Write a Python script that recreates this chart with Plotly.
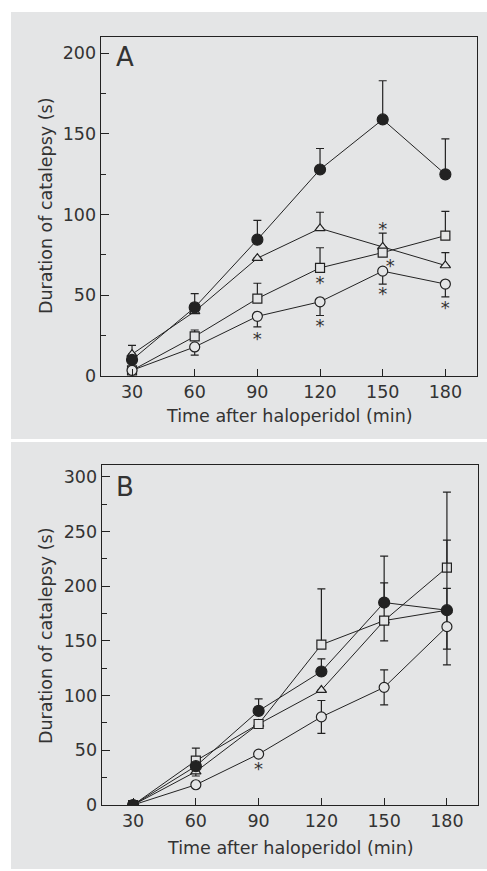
import plotly.graph_objects as go

W, H = 487, 871
BG = "#e4e5e6"
INK = "#222222"
TXT = "#333333"
FONT = "DejaVu Sans"

times = [30, 60, 90, 120, 150, 180]

# Panel A
a_filled = [10, 42.5, 84.5, 128, 159, 125]
a_filled_plus = [0, 8.5, 12, 13, 24, 22]
a_tri = [13.5, 40, 73, 91.5, 80, 68.5]
a_tri_plus = [5.5, 5, 0, 10, 8.5, 8]
a_sq = [3.5, 24.5, 48, 67, 76.5, 87]
a_sq_plus = [0, 4, 9.5, 12.5, 0, 15]
a_open = [3.5, 18, 37, 46, 65, 57]
a_open_minus = [0, 5, 6.5, 8.5, 8, 8]
a_star_x = [90, 120, 120, 150, 153.6, 150, 180]
a_star_y = [22.3, 56.4, 30.2, 90, 67.4, 49.8, 41.5]

# Panel B
b_filled = [0, 35.5, 86, 122, 185, 178]
b_filled_plus = [4, 0, 11, 11.5, 18, 64]
b_sq = [0, 40.5, 74, 146.5, 168.5, 217]
b_sq_plus = [0, 11.5, 0, 51, 59, 69]
b_tri = [0, 30.5, 74, 105, 168.5, 178]
b_tri_minus = [0, 4, 0, 0, 18.5, 35.5]
b_open = [0, 18.5, 46.5, 80.5, 107.5, 163]
b_open_err = [0, 0, 0, 15, 16, 35]
b_star_x = [90]
b_star_y = [31.3]

zeros = [0] * len(times)

fig = go.Figure()


def add_series(y, plus, minus, symbol, size, filled, xa, ya):
    fig.add_trace(go.Scatter(
        x=times, y=y, mode="lines+markers",
        line=dict(color=INK, width=1),
        marker=dict(symbol=symbol, size=size,
                    color=INK if filled else BG,
                    line=dict(color=INK, width=1.2)),
        error_y=dict(type="data", symmetric=False, array=plus, arrayminus=minus,
                     color=INK, thickness=1.2, width=4),
        xaxis=xa, yaxis=ya, showlegend=False, hoverinfo="skip"))


# Panel A traces
add_series(a_tri, a_tri_plus, zeros, "triangle-up", 9, False, "x", "y")
add_series(a_sq, a_sq_plus, zeros, "square", 9, False, "x", "y")
add_series(a_open, zeros, a_open_minus, "circle", 10, False, "x", "y")
add_series(a_filled, a_filled_plus, zeros, "circle", 11, True, "x", "y")
fig.add_trace(go.Scatter(x=a_star_x, y=a_star_y, mode="text", text=["*"] * len(a_star_x),
                         textposition="middle center",
                         textfont=dict(family=FONT, size=18, color=TXT),
                         xaxis="x", yaxis="y", showlegend=False, hoverinfo="skip"))

# Panel B traces
add_series(b_tri, zeros, b_tri_minus, "triangle-up", 9, False, "x2", "y2")
add_series(b_sq, b_sq_plus, zeros, "square", 9, False, "x2", "y2")
add_series(b_open, b_open_err, b_open_err, "circle", 10, False, "x2", "y2")
add_series(b_filled, b_filled_plus, zeros, "circle", 11, True, "x2", "y2")
fig.add_trace(go.Scatter(x=b_star_x, y=b_star_y, mode="text", text=["*"] * len(b_star_x),
                         textposition="middle center",
                         textfont=dict(family=FONT, size=18, color=TXT),
                         xaxis="x2", yaxis="y2", showlegend=False, hoverinfo="skip"))


def px_x(p):
    return p / W


def px_y(p):
    return 1 - p / H


common_x = dict(range=[15, 195], tickvals=times, ticks="inside", ticklen=7, tickwidth=1.2,
                tickcolor=INK, showline=True, linecolor=INK, linewidth=1.3, mirror=True,
                showgrid=False, zeroline=False, automargin=False,
                tickfont=dict(family=FONT, size=17.5, color=TXT))
common_y = dict(ticks="inside", ticklen=8, tickwidth=1.2, tickcolor=INK,
                showline=True, linecolor=INK, linewidth=1.3, mirror=True,
                showgrid=False, zeroline=False, automargin=False,
                minor=dict(dtick=25, ticks="inside", ticklen=5, tickwidth=1.2,
                           tickcolor=INK, showgrid=False),
                tickfont=dict(family=FONT, size=17.5, color=TXT))

fig.update_layout(
    width=W, height=H, margin=dict(l=0, r=0, t=0, b=0),
    paper_bgcolor="white", plot_bgcolor="rgba(0,0,0,0)",
    xaxis=dict(domain=[px_x(100.7), px_x(476.7)], anchor="y", **common_x),
    yaxis=dict(domain=[px_y(376), px_y(36.7)], anchor="x", range=[0, 210.3],
               dtick=50, tick0=0, **common_y),
    xaxis2=dict(domain=[px_x(101.7), px_x(478.3)], anchor="y2", **common_x),
    yaxis2=dict(domain=[px_y(805), px_y(465)], anchor="x2", range=[0, 310.7],
                dtick=50, tick0=0, **common_y),
    shapes=[
        dict(type="rect", xref="paper", yref="paper", x0=px_x(11), x1=1,
             y0=px_y(439), y1=px_y(12), fillcolor=BG, line=dict(width=0), layer="below"),
        dict(type="rect", xref="paper", yref="paper", x0=px_x(11), x1=1,
             y0=px_y(869), y1=px_y(442), fillcolor=BG, line=dict(width=0), layer="below"),
    ],
)

title_font = dict(family=FONT, size=17.5, color=TXT)
ann = [
    dict(text="A", x=px_x(114), y=px_y(57), xanchor="left", yanchor="middle",
         font=dict(family=FONT, size=26, color=TXT)),
    dict(text="B", x=px_x(114), y=px_y(487), xanchor="left", yanchor="middle",
         font=dict(family=FONT, size=26, color=TXT)),
    dict(text="Duration of catalepsy (s)", x=px_x(45.5), y=px_y(206.5), textangle=-90,
         xanchor="center", yanchor="middle", font=title_font),
    dict(text="Time after haloperidol (min)", x=px_x(289), y=px_y(416),
         xanchor="center", yanchor="middle", font=title_font),
    dict(text="Duration of catalepsy (s)", x=px_x(45.5), y=px_y(636.5), textangle=-90,
         xanchor="center", yanchor="middle", font=title_font),
    dict(text="Time after haloperidol (min)", x=px_x(290), y=px_y(848),
         xanchor="center", yanchor="middle", font=title_font),
]
for a in ann:
    a.update(xref="paper", yref="paper", showarrow=False)
fig.update_layout(annotations=ann)

fig.write_html("out.html")
